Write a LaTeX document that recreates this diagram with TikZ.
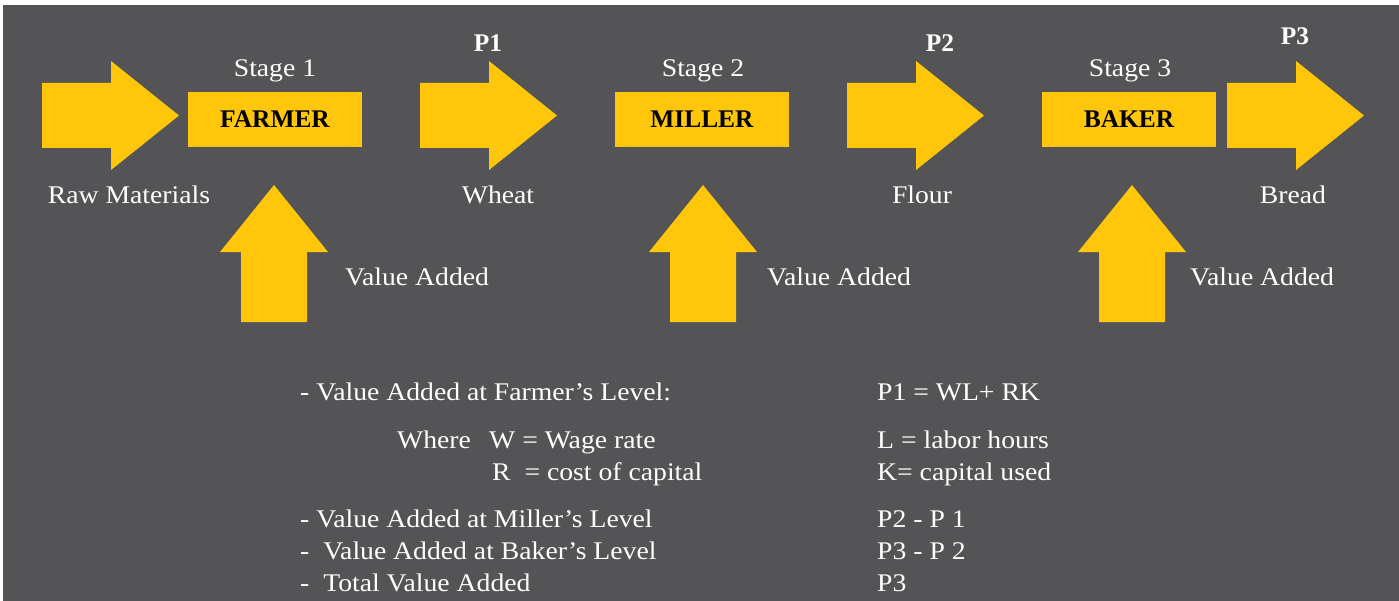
\documentclass[tikz,border=0pt]{standalone}
\usepackage{fontspec}
\setmainfont[FakeStretch=1.09]{Liberation Serif}
\newfontfamily\headface{Liberation Serif}
\definecolor{slate}{RGB}{84,84,86}
\definecolor{gold}{RGB}{255,198,10}
\begin{document}
\begin{tikzpicture}[x=1bp,y=-1bp,
  lbl/.style={text=white,font=\fontsize{25.5}{30}\selectfont,inner sep=0pt,anchor=base},
  lblw/.style={lbl,anchor=base west},
  plbl/.style={lbl,font=\fontsize{25.5}{30}\headface\bfseries},
  stagebox/.style={fill=gold,minimum width=174bp,minimum height=55bp,inner sep=0pt,
    font=\fontsize{25.5}{30}\headface\bfseries,text=black},
  pics/rarrow/.style={code={
    \fill[gold] (0,-32.5) -- (69,-32.5) -- (69,-54.5) -- (137,0) -- (69,54.5)
      -- (69,32.5) -- (0,32.5) -- cycle;}},
  pics/uarrow/.style={code={
    \fill[gold] (-33,0) -- (-33,-70) -- (-54,-70) -- (0,-137) -- (54,-70)
      -- (33,-70) -- (33,0) -- cycle;}}
]
\useasboundingbox (0,0) rectangle (1399,601);
\fill[white] (0,0) rectangle (1399,601);
\fill[slate] (3,5) rectangle (1399,601);

% flow arrows between the stages
\pic at (42,115.5) {rarrow};
\pic at (420,115.5) {rarrow};
\pic at (847,115.5) {rarrow};
\pic at (1227,115.5) {rarrow};

% value added inputs
\pic at (274,322) {uarrow};
\pic at (703,322) {uarrow};
\pic at (1132,322) {uarrow};

% producers
\node[stagebox] (farmer) at (275,119.5) {FARMER};
\node[stagebox] (miller) at (702,119.5) {MILLER};
\node[stagebox] (baker) at (1129,119.5) {BAKER};

\node[lbl] (s1) at (275,77) {Stage 1};
\node[lbl] (s2) at (703,77) {Stage 2};
\node[lbl] (s3) at (1130,77) {Stage 3};

\node[plbl] (p1) at (488,52) {P1};
\node[plbl] (p2) at (940,52) {P2};
\node[plbl] (p3) at (1295,45) {P3};

\node[lbl] (raw) at (129,204) {Raw Materials};
\node[lbl] (wheat) at (498,204) {Wheat};
\node[lbl] (flour) at (922,204) {Flour};
\node[lbl] (bread) at (1293,204) {Bread};

\node[lblw] (va1) at (345,285) {Value Added};
\node[lblw] (va2) at (767,285) {Value Added};
\node[lblw] (va3) at (1190,285) {Value Added};

% summary of the value added at each stage
\node[lblw] (t1) at (300,400) {- Value Added at Farmer’s Level:};
\node[lblw] (t2) at (397,448) {Where};
\node[lblw] (t3) at (489,448) {W = Wage rate};
\node[lblw] (t4) at (492,480) {R\ \ = cost of capital};
\node[lblw] (t5) at (300,527) {- Value Added at Miller’s Level};
\node[lblw] (t6) at (300,559) {-\ \ Value Added at Baker’s Level};
\node[lblw] (t7) at (300,591) {-\ \ Total Value Added};

\node[lblw] (r1) at (877,400) {P1 = WL+ RK};
\node[lblw] (r2) at (877,448) {L = labor hours};
\node[lblw] (r3) at (877,480) {K= capital used};
\node[lblw] (r4) at (877,527) {P2 - P 1};
\node[lblw] (r5) at (877,559) {P3 - P 2};
\node[lblw] (r6) at (877,591) {P3};
\end{tikzpicture}
\end{document}
